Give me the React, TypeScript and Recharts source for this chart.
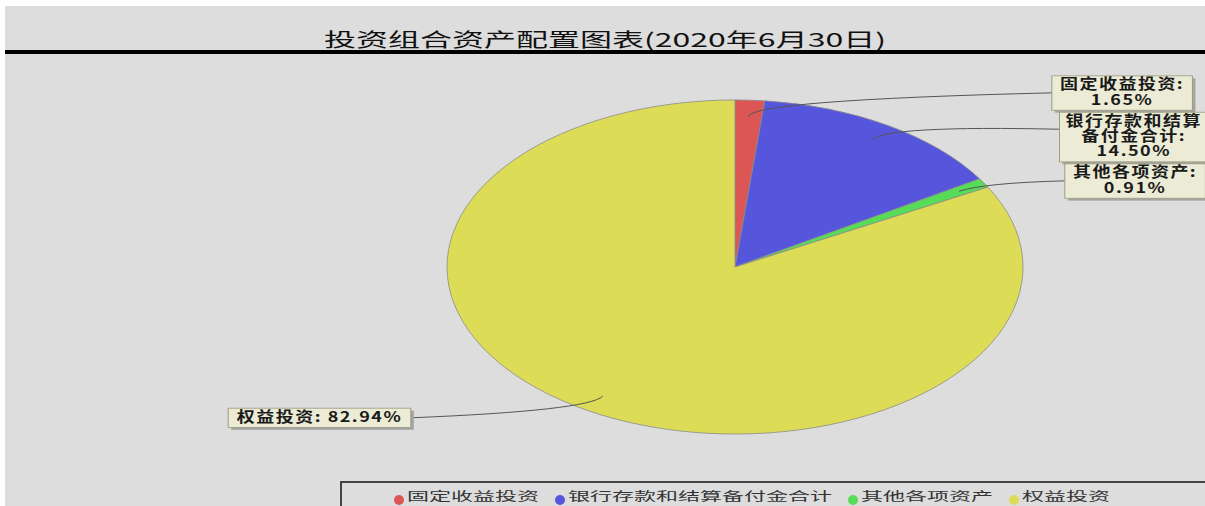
import { PieChart, Pie, Sector, Legend } from "recharts";

const categories = ["固定收益投资", "银行存款和结算备付金合计", "其他各项资产", "权益投资"];
const shares = [1.65, 14.5, 0.91, 82.94];
const sliceColors = ["#dc5656", "#5656dc", "#56dc56", "#dcdc56"];
const title = "投资组合资产配置图表(2020年6月30日)";

const data = categories.map((name, i) => ({ name, value: shares[i], fill: sliceColors[i] }));

// pie is drawn squashed into an ellipse
const K = 0.58;
const FS = 18;
const LS = 1.5;
const LINE = 19;
const SY = 0.8;

function textWidth(s: string) {
  let w = 0;
  for (const ch of s) w += (ch.charCodeAt(0) > 255 ? 1 : 0.56) * FS + LS;
  return w;
}

function chunk(s: string, n: number) {
  const out: string[] = [];
  const chars = Array.from(s);
  for (let i = 0; i < chars.length; i += n) out.push(chars.slice(i, i + n).join(""));
  return out;
}

function layout(cx: number, cy: number, r: number) {
  const total = shares.reduce((a, b) => a + b, 0);
  let cum = 0;
  const items = shares.map((v, i) => {
    const theta = ((cum + v / 2) / total) * 2 * Math.PI;
    cum += v;
    const s = Math.sin(theta);
    const c = Math.cos(theta);
    const right = s >= 0;
    const pct = v.toFixed(2) + "%";
    const lines = right ? [...chunk(categories[i] + ":", 7), pct] : [categories[i] + ": " + pct];
    const hU = lines.length * LINE + 5;
    const h = hU * SY;
    const w = Math.max(...lines.map(textWidth)) + 12;
    const anchorY = cy - r * K * c * 1.05;
    const top = anchorY - Math.min(h / 2, 16);
    const x = right ? cx + r + 28 + 16 * Math.abs(s) : cx - r - 28 - 16 * Math.abs(s) - w;
    return { i, s, c, right, lines, hU, h, w, top, x };
  });
  for (const side of [true, false]) {
    let prev = -Infinity;
    items
      .filter((it) => it.right === side)
      .sort((a, b) => a.top - b.top)
      .forEach((it) => {
        it.top = Math.max(it.top, prev + 2);
        prev = it.top + it.h;
      });
  }
  return items;
}

const renderShape = (props: any) => {
  const { cx, cy, innerRadius, outerRadius, startAngle, endAngle, fill } = props;
  return (
    <g transform={`translate(0 ${cy * (1 - K)}) scale(1 ${K})`}>
      <Sector
        cx={cx}
        cy={cy}
        innerRadius={innerRadius}
        outerRadius={outerRadius}
        startAngle={startAngle}
        endAngle={endAngle}
        fill={fill}
        stroke="#8a8a8a"
        strokeWidth={1}
      />
    </g>
  );
};

const renderLabel = (props: any) => {
  const { cx, cy, outerRadius: r, index } = props;
  const it = layout(cx, cy, r)[index];
  const sx = cx + 0.9 * r * it.s;
  const sy = cy - 0.9 * r * K * it.c;
  const qx = cx + r * it.s;
  const qy = cy - r * K * it.c;
  const ex = it.right ? it.x : it.x + it.w;
  const ey = it.top + Math.min(it.h / 2, 17);
  return (
    <g key={`lbl-${index}`}>
      <path d={`M${sx},${sy} Q${qx},${qy} ${ex},${ey}`} fill="none" stroke="#555" strokeWidth={1} />
      <g transform={`translate(${it.x},${it.top}) scale(1,${SY})`}>
        <rect x={3} y={3} width={it.w} height={it.hU} fill="#a4a4a4" />
        <rect x={0} y={0} width={it.w} height={it.hU} fill="#ebebd6" stroke="#9c9c7c" />
        {it.lines.map((ln, j) => (
          <text
            key={j}
            x={it.w / 2}
            y={LINE * (j + 1) - 2}
            textAnchor="middle"
            fontSize={FS}
            fontWeight="bold"
            letterSpacing={LS}
            fill="#1a1a1a"
          >
            {ln}
          </text>
        ))}
      </g>
    </g>
  );
};

const renderLegend = (props: any) => (
  <div
    style={{
      borderTop: "2px solid #444",
      borderLeft: "2px solid #444",
      height: 40,
      boxSizing: "border-box",
      display: "flex",
      alignItems: "flex-start",
      paddingLeft: 52,
      paddingTop: 6,
      gap: 16,
    }}
  >
    {(props.payload || []).map((p: any, i: number) => (
      <div key={i} style={{ display: "flex", alignItems: "center", whiteSpace: "nowrap" }}>
        <span
          style={{
            display: "inline-block",
            width: 10,
            height: 10,
            borderRadius: 5,
            background: p.color,
            marginRight: 3,
          }}
        />
        <span
          style={{
            display: "inline-block",
            fontSize: 22,
            lineHeight: 1,
            color: "#333",
            transform: "scaleY(0.55)",
            transformOrigin: "top",
          }}
        >
          {p.value}
        </span>
      </div>
    ))}
  </div>
);

export default function App() {
  return (
    <div
      style={{
        position: "absolute",
        left: 5,
        top: 6,
        width: 1200,
        height: 500,
        background: "#dddddd",
        overflow: "hidden",
        fontFamily: "'Noto Sans CJK SC', sans-serif",
      }}
    >
      <div
        style={{
          position: "absolute",
          left: 0,
          top: 23,
          width: 1200,
          textAlign: "center",
          fontSize: 32,
          lineHeight: 1,
          color: "#111",
          transform: "scaleY(0.6)",
          transformOrigin: "top",
          whiteSpace: "nowrap",
        }}
      >
        {title}
      </div>
      <div style={{ position: "absolute", left: 0, top: 44, width: 1200, height: 4, background: "#000" }} />
      <div style={{ position: "absolute", left: 0, top: 0 }}>
        <PieChart width={1200} height={500} margin={{ top: 0, right: 0, bottom: 0, left: 0 }}>
          <Pie
            data={data}
            dataKey="value"
            nameKey="name"
            cx={730}
            cy={261}
            outerRadius={288}
            startAngle={90}
            endAngle={-270}
            shape={renderShape}
            label={renderLabel}
            labelLine={false}
            isAnimationActive={false}
          />
          <Legend
            content={renderLegend}
            itemSorter={(item: any) => categories.indexOf(item.value)}
            wrapperStyle={{ position: "absolute", left: 335, top: 475, width: 870, height: 40 }}
          />
        </PieChart>
      </div>
    </div>
  );
}
